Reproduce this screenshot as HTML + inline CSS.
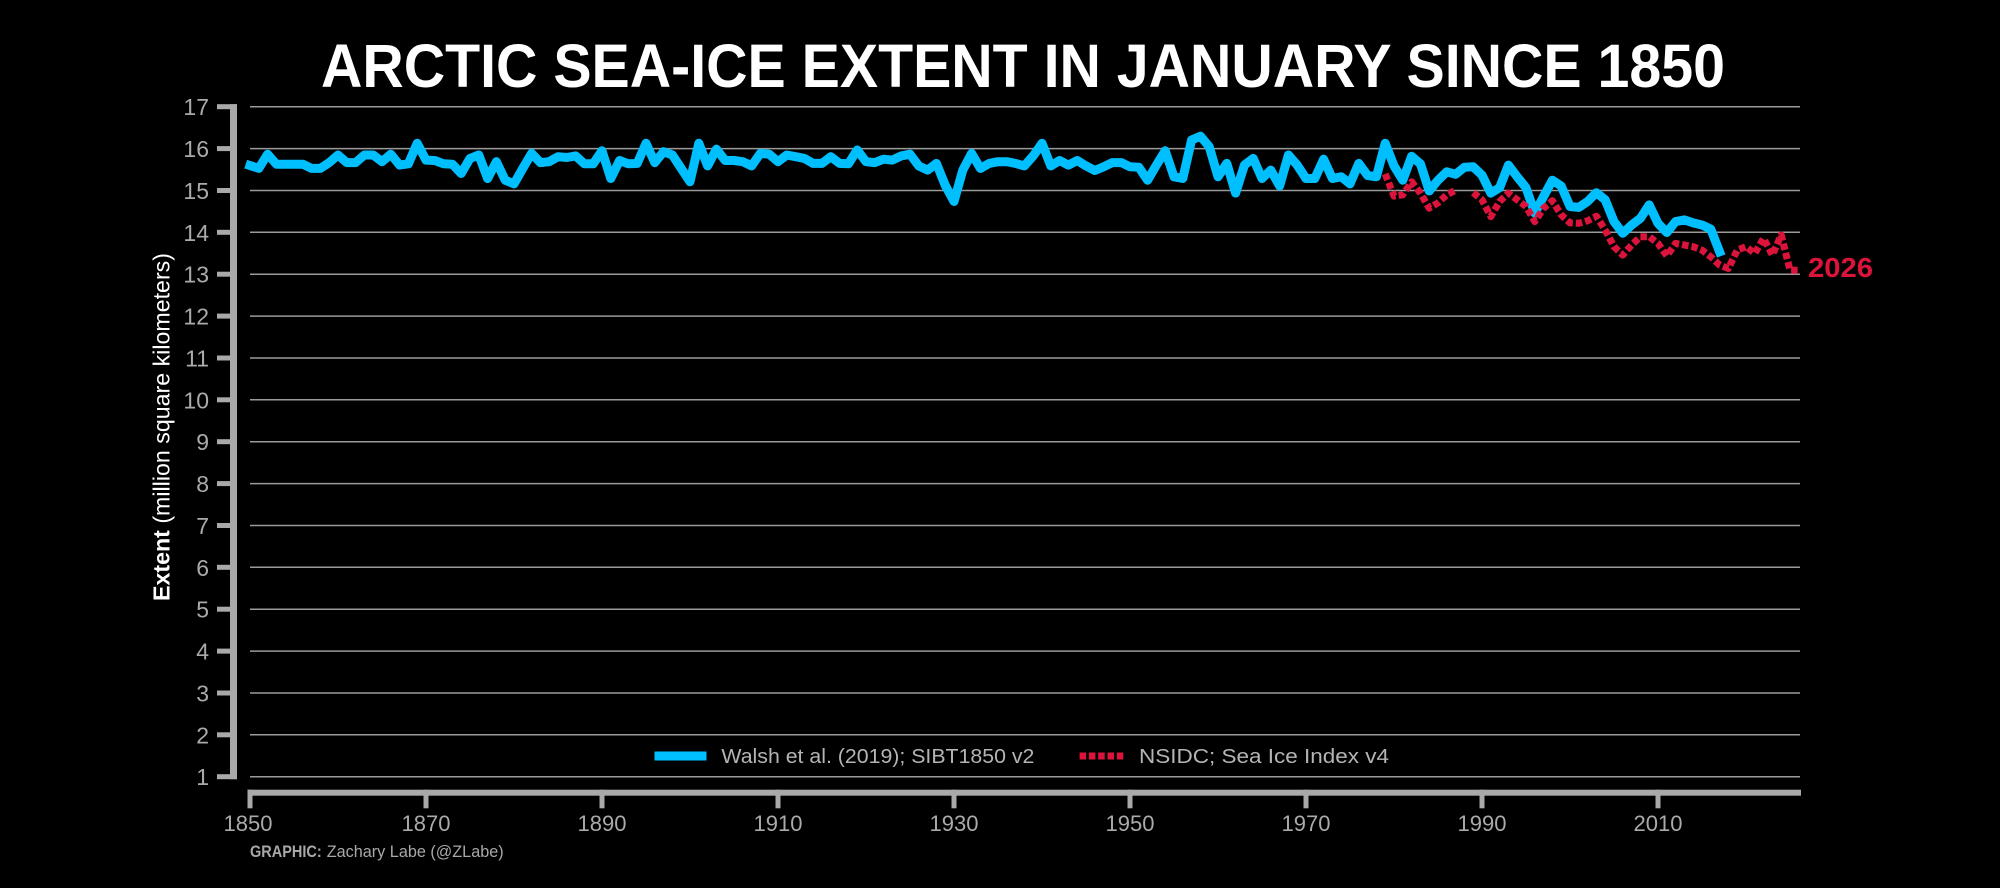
<!DOCTYPE html>
<html>
<head>
<meta charset="utf-8">
<style>
  html, body { margin:0; padding:0; background:#000; }
  body { width:2000px; height:888px; overflow:hidden; }
  svg { display:block; }
  text { font-family: "Liberation Sans", "DejaVu Sans", sans-serif; }
</style>
</head>
<body>
<svg width="2000" height="888" viewBox="0 0 2000 888" xmlns="http://www.w3.org/2000/svg">
  <rect x="0" y="0" width="2000" height="888" fill="#000"/>

  <!-- Title -->
  <text x="321" y="87" font-size="61" font-weight="bold" fill="#ffffff" textLength="1404" lengthAdjust="spacingAndGlyphs">ARCTIC SEA-ICE EXTENT IN JANUARY SINCE 1850</text>

  <!-- Grid lines -->
  <g stroke="#9a9a9a" stroke-width="1.5">
    <line x1="250" x2="1800" y1="106.7" y2="106.7"/>
    <line x1="250" x2="1800" y1="148.6" y2="148.6"/>
    <line x1="250" x2="1800" y1="190.5" y2="190.5"/>
    <line x1="250" x2="1800" y1="232.3" y2="232.3"/>
    <line x1="250" x2="1800" y1="274.2" y2="274.2"/>
    <line x1="250" x2="1800" y1="316.1" y2="316.1"/>
    <line x1="250" x2="1800" y1="358.0" y2="358.0"/>
    <line x1="250" x2="1800" y1="399.8" y2="399.8"/>
    <line x1="250" x2="1800" y1="441.7" y2="441.7"/>
    <line x1="250" x2="1800" y1="483.6" y2="483.6"/>
    <line x1="250" x2="1800" y1="525.5" y2="525.5"/>
    <line x1="250" x2="1800" y1="567.3" y2="567.3"/>
    <line x1="250" x2="1800" y1="609.2" y2="609.2"/>
    <line x1="250" x2="1800" y1="651.1" y2="651.1"/>
    <line x1="250" x2="1800" y1="693.0" y2="693.0"/>
    <line x1="250" x2="1800" y1="734.8" y2="734.8"/>
    <line x1="250" x2="1800" y1="776.7" y2="776.7"/>
  </g>

  <!-- Y axis spine + ticks -->
  <g fill="#a9a9a9">
    <rect x="230" y="104.2" width="7" height="675"/>
    <rect x="217" y="104.2" width="20" height="5"/>
    <rect x="217" y="146.1" width="20" height="5"/>
    <rect x="217" y="188.0" width="20" height="5"/>
    <rect x="217" y="229.8" width="20" height="5"/>
    <rect x="217" y="271.7" width="20" height="5"/>
    <rect x="217" y="313.6" width="20" height="5"/>
    <rect x="217" y="355.5" width="20" height="5"/>
    <rect x="217" y="397.3" width="20" height="5"/>
    <rect x="217" y="439.2" width="20" height="5"/>
    <rect x="217" y="481.1" width="20" height="5"/>
    <rect x="217" y="523.0" width="20" height="5"/>
    <rect x="217" y="564.8" width="20" height="5"/>
    <rect x="217" y="606.7" width="20" height="5"/>
    <rect x="217" y="648.6" width="20" height="5"/>
    <rect x="217" y="690.5" width="20" height="5"/>
    <rect x="217" y="732.3" width="20" height="5"/>
    <rect x="217" y="774.2" width="20" height="5"/>
  </g>

  <!-- Y tick labels -->
  <g font-size="23" fill="#aaaaaa" text-anchor="end">
    <text x="209" y="115.2">17</text>
    <text x="209" y="157.1">16</text>
    <text x="209" y="199.0">15</text>
    <text x="209" y="240.8">14</text>
    <text x="209" y="282.7">13</text>
    <text x="209" y="324.6">12</text>
    <text x="209" y="366.5">11</text>
    <text x="209" y="408.3">10</text>
    <text x="209" y="450.2">9</text>
    <text x="209" y="492.1">8</text>
    <text x="209" y="534.0">7</text>
    <text x="209" y="575.8">6</text>
    <text x="209" y="617.7">5</text>
    <text x="209" y="659.6">4</text>
    <text x="209" y="701.5">3</text>
    <text x="209" y="743.3">2</text>
    <text x="209" y="785.2">1</text>
  </g>

  <!-- X axis spine + ticks -->
  <g fill="#a9a9a9">
    <rect x="247.5" y="789.7" width="1553.5" height="6"/>
    <rect x="247.5" y="789.7" width="5" height="18.6"/>
    <rect x="423.5" y="789.7" width="5" height="18.6"/>
    <rect x="599.5" y="789.7" width="5" height="18.6"/>
    <rect x="775.5" y="789.7" width="5" height="18.6"/>
    <rect x="951.5" y="789.7" width="5" height="18.6"/>
    <rect x="1127.5" y="789.7" width="5" height="18.6"/>
    <rect x="1303.5" y="789.7" width="5" height="18.6"/>
    <rect x="1479.5" y="789.7" width="5" height="18.6"/>
    <rect x="1655.5" y="789.7" width="5" height="18.6"/>
  </g>

  <!-- X tick labels -->
  <g font-size="22" fill="#aaaaaa" text-anchor="middle">
    <text x="248" y="831">1850</text>
    <text x="426" y="831">1870</text>
    <text x="602" y="831">1890</text>
    <text x="778" y="831">1910</text>
    <text x="954" y="831">1930</text>
    <text x="1130" y="831">1950</text>
    <text x="1306" y="831">1970</text>
    <text x="1482" y="831">1990</text>
    <text x="1658" y="831">2010</text>
  </g>

  <!-- Y axis label -->
  <text transform="translate(169.5,427) rotate(-90)" text-anchor="middle" font-size="23" fill="#ffffff" textLength="348" lengthAdjust="spacingAndGlyphs"><tspan font-weight="bold">Extent</tspan> (million square kilometers)</text>

  <!-- Blue series: Walsh et al. -->
  <polyline fill="none" stroke="#00bfff" stroke-width="9" stroke-linejoin="round" stroke-linecap="square"
    points="250,165.5 258.8,168.4 267.6,154.2 276.4,164.2 285.2,164.2 294,164.2 302.8,164.2 311.6,168.4 320.4,168.4 329.2,162.6 338,155.0 346.8,162.6 355.6,162.6 364.4,155.0 373.2,155.0 382,161.7 390.8,154.2 399.6,165.1 408.4,163.8 417.2,143.3 426,160.1 434.8,160.5 443.6,163.8 452.4,164.2 461.2,173.5 470,158.4 478.8,155.0 487.6,178.5 496.4,161.7 505.2,180.2 514,183.9 522.8,168.4 531.6,153.4 540.4,162.6 549.2,161.7 558,156.7 566.8,157.5 575.6,155.9 584.4,163.8 593.2,163.8 602,150.8 610.8,178.5 619.6,160.5 628.4,163.8 637.2,163.4 646,143.3 654.8,162.6 663.6,151.7 672.4,155.0 681.2,168.4 690,181.8 698.8,143.3 707.6,165.9 716.4,149.2 725.2,160.5 734,160.5 742.8,161.7 751.6,165.9 760.4,153.4 769.2,154.2 778,161.7 786.8,155.0 795.6,156.7 804.4,158.4 813.2,163.4 822,163.4 830.8,156.7 839.6,163.4 848.4,163.8 857.2,150.0 866,161.7 874.8,162.6 883.6,159.2 892.4,160.1 901.2,155.9 910,154.2 918.8,165.9 927.6,170.1 936.4,163.4 945.2,185.2 954,201.5 962.8,170.1 971.6,153.4 980.4,168.4 989.2,163.4 998,161.7 1006.8,161.7 1015.6,163.4 1024.4,165.9 1033.2,155.9 1042,143.3 1050.8,165.9 1059.6,160.5 1068.4,165.1 1077.2,160.5 1086,165.9 1094.8,170.5 1103.6,166.8 1112.4,162.6 1121.2,162.6 1130,166.8 1138.8,167.2 1147.6,180.2 1156.4,165.1 1165.2,150.8 1174,176.8 1182.8,178.5 1191.6,140.0 1200.4,136.2 1209.2,146.6 1218,176.8 1226.8,163.4 1235.6,193.1 1244.4,165.1 1253.2,158.4 1262,178.5 1270.8,170.1 1279.6,186.0 1288.4,155.0 1297.2,165.1 1306,178.5 1314.8,178.5 1323.6,159.2 1332.4,178.5 1341.2,176.8 1350,183.9 1358.8,163.4 1367.6,175.5 1376.4,176.8 1385.2,143.3 1394,165.9 1402.8,180.2 1411.6,156.3 1420.4,163.8 1429.2,191.0 1438,180.2 1446.8,171.8 1455.6,174.3 1464.4,167.2 1473.2,166.8 1482,175.1 1490.8,193.1 1499.6,187.7 1508.4,165.1 1517.2,176.8 1526,187.7 1534.8,213.2 1543.6,196.5 1552.4,180.2 1561.2,186.0 1570,206.5 1578.8,207.4 1587.6,201.5 1596.4,192.7 1605.2,199.8 1614,221.6 1622.8,233.3 1631.6,225.0 1640.4,218.3 1649.2,204.9 1658,223.3 1666.8,232.5 1675.6,221.6 1684.4,219.9 1693.2,222.9 1702,225.0 1710.8,229.1 1719.6,251.8"/>

  <!-- Red series: NSIDC (dotted) -->
  <g fill="none" stroke="#dc143c" stroke-width="7" stroke-dasharray="6.5 3" stroke-linejoin="round" stroke-linecap="butt">
    <polyline points="1385.2,173.9 1394,196.1 1402.8,194.8 1411.6,181.8 1420.4,193.1 1429.2,208.2 1438,202.8 1446.8,194.8 1455.6,190.2"/>
    <polyline points="1473.2,192.7 1482,199.8 1490.8,216.6 1499.6,201.5 1508.4,193.1 1517.2,199.8 1526,206.5 1534.8,221.6 1543.6,208.2 1552.4,200.7 1561.2,214.9 1570,222.9 1578.8,223.3 1587.6,220.8 1596.4,216.2 1605.2,230.0 1614,246.7 1622.8,255.1 1631.6,245.0 1640.4,236.7 1649.2,236.7 1658,243.4 1666.8,255.9 1675.6,243.4 1684.4,245.0 1693.2,246.7 1702,250.1 1710.8,256.8 1719.6,265.1 1728.4,268.5 1737.2,250.1 1746,246.7 1754.8,253.4 1763.6,238.3 1772.4,255.1 1781.2,235.0 1790,270.2 1798.8,270.2"/>
  </g>

  <!-- 2026 label -->
  <text x="1808" y="277" font-size="28" font-weight="bold" fill="#dc143c" textLength="65" lengthAdjust="spacingAndGlyphs">2026</text>

  <!-- Legend -->
  <rect x="654.5" y="751.5" width="52" height="9" fill="#00bfff"/>
  <text x="721.4" y="763" font-size="20" fill="#b4b4b4" textLength="313" lengthAdjust="spacingAndGlyphs">Walsh et al. (2019); SIBT1850 v2</text>
  <line x1="1079.6" y1="756" x2="1123.3" y2="756" stroke="#dc143c" stroke-width="7" stroke-dasharray="6.5 2.8"/>
  <text x="1139" y="763" font-size="20" fill="#b4b4b4" textLength="250" lengthAdjust="spacingAndGlyphs">NSIDC; Sea Ice Index v4</text>

  <!-- Credit -->
  <text x="250" y="857" font-size="17" font-weight="bold" fill="#a8a8a8" textLength="71.7" lengthAdjust="spacingAndGlyphs">GRAPHIC:</text>
  <text x="326.7" y="857" font-size="17" fill="#a8a8a8" textLength="177" lengthAdjust="spacingAndGlyphs">Zachary Labe (@ZLabe)</text>
</svg>
</body>
</html>
